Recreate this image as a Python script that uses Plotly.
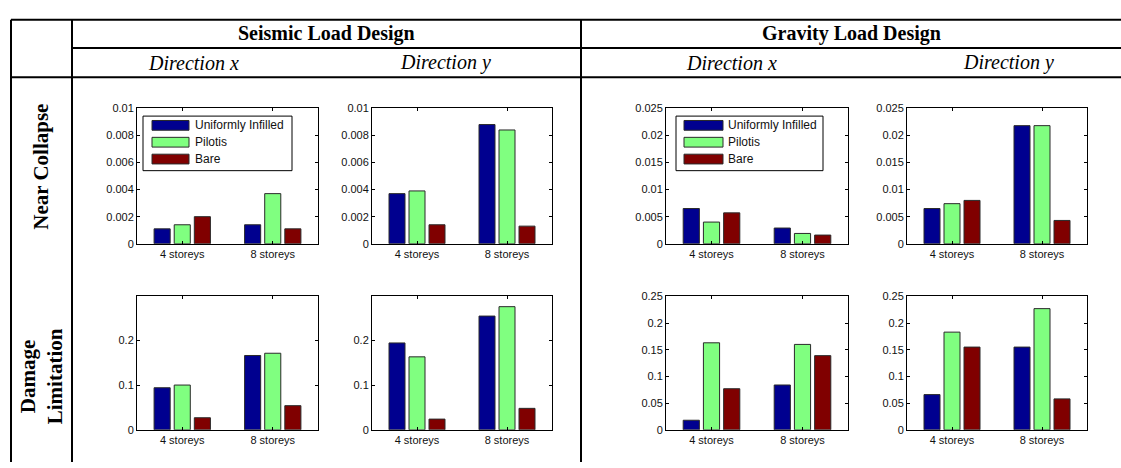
import plotly.graph_objects as go

W, H = 1121, 468

# ---- data -------------------------------------------------------------
categories = ["4 storeys", "8 storeys"]
series_names = ["Uniformly Infilled", "Pilotis", "Bare"]
series_colors = ["#00008F", "#80FF80", "#800000"]

# Near Collapse (rows: Uniformly Infilled, Pilotis, Bare; cols: 4 / 8 storeys)
nc_seismic_x = [[0.0011, 0.0014], [0.0014, 0.0037], [0.0020, 0.0011]]
nc_seismic_y = [[0.0037, 0.0088], [0.0039, 0.0084], [0.0014, 0.0013]]
nc_gravity_x = [[0.0065, 0.0029], [0.0040, 0.0019], [0.0057, 0.0016]]
nc_gravity_y = [[0.0065, 0.0218], [0.0074, 0.0218], [0.0080, 0.0043]]

# Damage Limitation
dl_seismic_x = [[0.094, 0.166], [0.100, 0.171], [0.027, 0.054]]
dl_seismic_y = [[0.194, 0.254], [0.163, 0.275], [0.024, 0.048]]
dl_gravity_x = [[0.018, 0.084], [0.163, 0.160], [0.077, 0.139]]
dl_gravity_y = [[0.066, 0.155], [0.183, 0.227], [0.155, 0.058]]

# y tick values / labels
nc_seismic_ticks = [0, 0.002, 0.004, 0.006, 0.008, 0.01]
nc_seismic_labels = ["0", "0.002", "0.004", "0.006", "0.008", "0.01"]
nc_gravity_ticks = [0, 0.005, 0.01, 0.015, 0.02, 0.025]
nc_gravity_labels = ["0", "0.005", "0.01", "0.015", "0.02", "0.025"]
dl_seismic_ticks = [0, 0.1, 0.2]
dl_seismic_labels = ["0", "0.1", "0.2"]
dl_gravity_ticks = [0, 0.05, 0.1, 0.15, 0.2, 0.25]
dl_gravity_labels = ["0", "0.05", "0.1", "0.15", "0.2", "0.25"]

# ---- layout helpers ---------------------------------------------------
def px(x):
    return x / W


def py(y):
    return 1 - y / H


# panel: data, ticks, labels, y max, (left, right, top, bottom) in px
panels = [
    (nc_seismic_x, nc_seismic_ticks, nc_seismic_labels, 0.01, (137, 318, 105, 244)),
    (nc_seismic_y, nc_seismic_ticks, nc_seismic_labels, 0.01, (372, 552, 105, 244)),
    (nc_gravity_x, nc_gravity_ticks, nc_gravity_labels, 0.025, (666, 848, 105, 244)),
    (nc_gravity_y, nc_gravity_ticks, nc_gravity_labels, 0.025, (907, 1087, 105, 244)),
    (dl_seismic_x, dl_seismic_ticks, dl_seismic_labels, 0.298, (137, 318, 298, 435)),
    (dl_seismic_y, dl_seismic_ticks, dl_seismic_labels, 0.298, (372, 552, 298, 435)),
    (dl_gravity_x, dl_gravity_ticks, dl_gravity_labels, 0.25, (666, 848, 298, 435)),
    (dl_gravity_y, dl_gravity_ticks, dl_gravity_labels, 0.25, (907, 1087, 298, 435)),
]

fig = go.Figure()
sans = "Liberation Sans, Arial, sans-serif"
tick_font = dict(family=sans, size=11, color="#111")
layout_axes = {}

for k, (vals, ticks, labels, ymax, (l, r, t, b)) in enumerate(panels, start=1):
    xa = "x" if k == 1 else f"x{k}"
    ya = "y" if k == 1 else f"y{k}"
    for name, color, v in zip(series_names, series_colors, vals):
        fig.add_trace(go.Bar(
            x=categories, y=v, name=name, xaxis=xa, yaxis=ya,
            marker=dict(color=color, line=dict(color="#2a2a2a", width=1)),
            showlegend=False, offsetgroup=name,
        ))
    xkey = "xaxis" if k == 1 else f"xaxis{k}"
    ykey = "yaxis" if k == 1 else f"yaxis{k}"
    layout_axes[xkey] = dict(
        domain=[px(l), px(r)], anchor=ya, type="category",
        range=[-0.5, 1.5], showline=True, linecolor="black", linewidth=1,
        mirror="allticks", ticks="inside", ticklen=3, tickcolor="black",
        showgrid=False, zeroline=False, tickfont=tick_font, fixedrange=True,
    )
    layout_axes[ykey] = dict(
        domain=[py(b), py(t)], anchor=xa, range=[0, ymax],
        tickvals=ticks, ticktext=labels,
        showline=True, linecolor="black", linewidth=1,
        mirror="allticks", ticks="inside", ticklen=3, tickcolor="black",
        showgrid=False, zeroline=False, tickfont=tick_font, fixedrange=True,
    )

fig.update_layout(
    width=W, height=H,
    margin=dict(l=0, r=0, t=0, b=0),
    paper_bgcolor="white", plot_bgcolor="white",
    barmode="group", bargap=1 / 3, bargroupgap=0.2,
    **layout_axes,
)

# ---- table frame ------------------------------------------------------
line = dict(color="black", width=2)
frame = [
    (11, 14, W, 14),     # top border
    (72, 43, W, 43),     # below design headers
    (11, 73, W, 73),     # below direction headers
    (11, 14, 11, H),     # outer left
    (72, 14, 72, H),     # row-label column
    (581, 14, 581, H),   # between design groups
]
for x0, y0, x1, y1 in frame:
    fig.add_shape(type="line", xref="paper", yref="paper",
                  x0=px(x0), y0=py(y0), x1=px(x1), y1=py(y1), line=line)

serif = "Liberation Serif, Times New Roman, serif"
headers = [
    ("<b>Seismic Load Design</b>", 326, 28, 20),
    ("<b>Gravity Load Design</b>", 851, 28, 20),
    ("<i>Direction x</i>", 193, 58, 20),
    ("<i>Direction y</i>", 445, 58, 20),
    ("<i>Direction x</i>", 731, 58, 20),
    ("<i>Direction y</i>", 1008, 58, 20),
]
for text, x, y, size in headers:
    fig.add_annotation(text=text, x=px(x), y=py(y), xref="paper", yref="paper",
                       showarrow=False, xanchor="center", yanchor="middle",
                       font=dict(family=serif, size=size, color="black"))

row_labels = [
    ("<b>Near Collapse</b>", 41, 165),
    ("<b>Damage<br>Limitation</b>", 41, 380),
]
for text, x, y in row_labels:
    fig.add_annotation(text=text, x=px(x), y=py(y), xref="paper", yref="paper",
                       showarrow=False, textangle=-90, xanchor="center",
                       yanchor="middle",
                       font=dict(family=serif, size=21, color="black"))

# ---- in-axes legends (first panel of each design group) ----------------
legend_boxes = [(143, 292, 113, 169, 152, 189, 193), (676, 823, 113, 169, 684, 723, 726)]
for bx0, bx1, by0, by1, sx0, sx1, tx in legend_boxes:
    fig.add_shape(type="rect", xref="paper", yref="paper",
                  x0=px(bx0), x1=px(bx1), y0=py(by0), y1=py(by1),
                  line=dict(color="black", width=1), fillcolor="white")
    for i, (name, color) in enumerate(zip(series_names, series_colors)):
        cy = 122.5 + i * 17.3
        fig.add_shape(type="rect", xref="paper", yref="paper",
                      x0=px(sx0), x1=px(sx1), y0=py(cy - 5), y1=py(cy + 5),
                      line=dict(color="#2a2a2a", width=1), fillcolor=color)
        fig.add_annotation(text=name, x=px(tx), y=py(cy), xref="paper",
                           yref="paper", showarrow=False, xanchor="left",
                           yanchor="middle",
                           font=dict(family=sans, size=12, color="#111"))

fig.write_html("out.html")
